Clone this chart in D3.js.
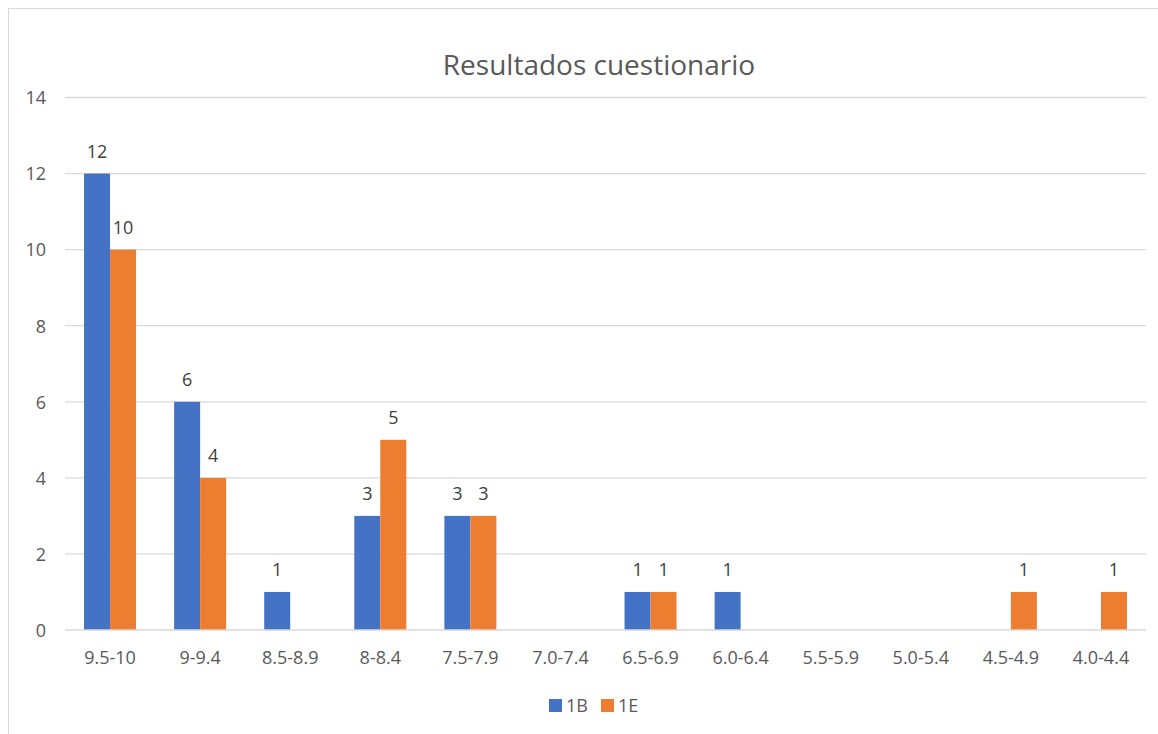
<!DOCTYPE html>
<html><head><meta charset="utf-8">
<script src="https://cdn.jsdelivr.net/npm/d3@7"></script>
<style>body{margin:0;background:#fff}svg{display:block}text{font-family:"Open Sans","Noto Sans",sans-serif}</style>
</head><body>
<svg id="c" width="1158" height="734"></svg>
<script>
const categories = ["9.5-10","9-9.4","8.5-8.9","8-8.4","7.5-7.9","7.0-7.4","6.5-6.9","6.0-6.4","5.5-5.9","5.0-5.4","4.5-4.9","4.0-4.4"];
const series = ["1B","1E"];
const values1B = [12,6,1,3,3,null,1,1,null,null,null,null];
const values1E = [10,4,null,5,3,null,1,null,null,null,1,1];
const yTicks = [0,2,4,6,8,10,12,14];
const colors = ["#4472C4","#ED7D31"];
const title = "Resultados cuestionario";

(function(){
const FONT = "'Open Sans','Noto Sans',sans-serif";
const svg = d3.select("#c");
svg.append("rect").attr("x",8.5).attr("y",8.5).attr("width",1170).attr("height",760)
  .attr("fill","#fff").attr("stroke","#d9d9d9").attr("stroke-width",1);

const pL = 65, pR = 1146, pT = 97.5, pB = 630;
const x = d3.scaleBand().domain(categories).range([pL,pR]);
const x1 = d3.scaleBand().domain(series).range([0,52]);
const y = d3.scaleLinear().domain([0,14]).range([pB,pT]);

svg.append("g").selectAll("line").data(yTicks.filter(d=>d>0)).join("line")
  .attr("x1",pL).attr("x2",pR).attr("y1",d=>y(d)).attr("y2",d=>y(d))
  .attr("stroke","#d9d9d9").attr("stroke-width",1.3);

const yAxis = d3.axisLeft(y).tickValues(yTicks).tickSize(0).tickPadding(0);
const gy = svg.append("g").attr("transform",`translate(46,0)`).call(yAxis);
gy.select(".domain").remove();
gy.selectAll("text").attr("fill","#595959").style("font-size","18px").style("font-family",FONT).attr("dy","0.35em");

const data = [values1B, values1E];
const off = (x.bandwidth()-52)/2;
data.forEach((vals,si)=>{
  const g = svg.append("g");
  categories.forEach((c,i)=>{
    const v = vals[i];
    if (v==null) return;
    const bx = x(c)+off+x1(series[si]);
    g.append("rect").attr("x",bx).attr("y",y(v)).attr("width",x1.bandwidth()).attr("height",y(0)-y(v))
      .attr("fill",colors[si]);
    g.append("text").attr("x",bx+x1.bandwidth()/2).attr("y",y(v)-16)
      .attr("text-anchor","middle").attr("fill","#404040").style("font-size","18px").text(v);
  });
});

svg.append("line").attr("x1",pL).attr("x2",pR).attr("y1",y(0)).attr("y2",y(0))
  .attr("stroke","#d9d9d9").attr("stroke-width",1.3);
const xAxis = d3.axisBottom(x).tickSize(0).tickPadding(0);
const gx = svg.append("g").attr("transform",`translate(0,${y(0)+34})`).call(xAxis);
gx.select(".domain").remove();
gx.selectAll("text").attr("fill","#595959").style("font-size","18px").style("font-family",FONT).attr("dy","0");

svg.append("text").attr("x",599).attr("y",75).attr("text-anchor","middle")
  .attr("fill","#595959").style("font-size","28px").text(title);

const lg = svg.append("g");
const legendX = [549, 601];
series.forEach((s,i)=>{
  lg.append("rect").attr("x",legendX[i]).attr("y",699).attr("width",13).attr("height",13).attr("fill",colors[i]);
  lg.append("text").attr("x",legendX[i]+17).attr("y",712).attr("fill","#595959").style("font-size","18px").text(s);
});
})();
</script>
</body></html>
